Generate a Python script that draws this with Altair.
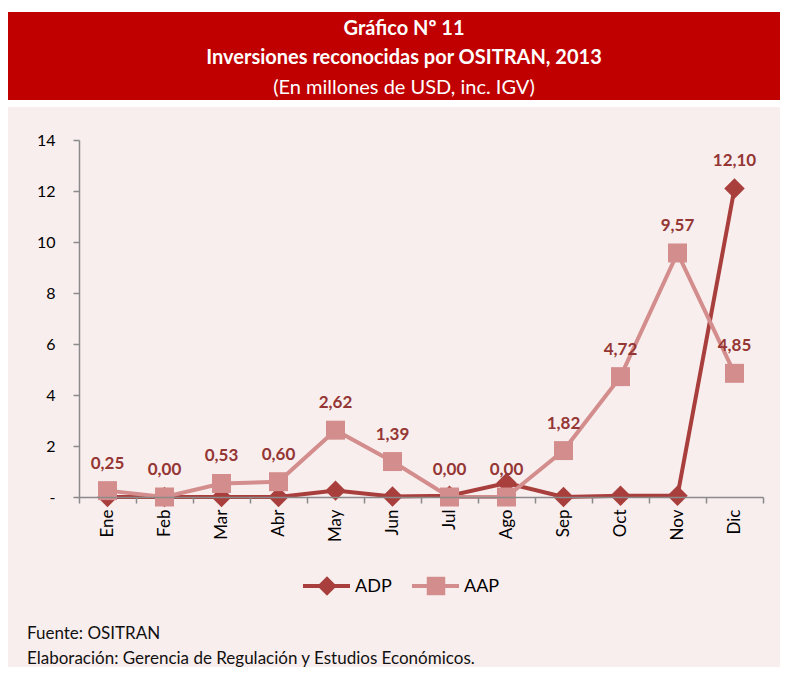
import altair as alt
import pandas as pd

meses = ["Ene", "Feb", "Mar", "Abr", "May", "Jun", "Jul", "Ago", "Sep", "Oct", "Nov", "Dic"]
adp = [0.0, 0.0, 0.0, 0.0, 0.25, 0.02, 0.05, 0.55, 0.0, 0.05, 0.05, 12.10]
aap = [0.25, 0.00, 0.53, 0.60, 2.62, 1.39, 0.00, 0.00, 1.82, 4.72, 9.57, 4.85]
series = ["ADP", "AAP"]
colores = ["#A83F3D", "#D48D8D"]
formas = ["diamond", "square"]
y_ticks = [0, 2, 4, 6, 8, 10, 12, 14]

titulo1 = "Gráfico Nº 11"
titulo2 = "Inversiones reconocidas por OSITRAN, 2013"
titulo3 = "(En millones de USD, inc. IGV)"
fuente = "Fuente: OSITRAN"
elaboracion = "Elaboración: Gerencia de Regulación y Estudios Económicos."

df = pd.DataFrame({
    "mes": meses * 2,
    "serie": ["ADP"] * len(meses) + ["AAP"] * len(meses),
    "valor": adp + aap,
})

FONT = "Lato"
BG = "#F9EEEE"
HEADER = "#C00000"
LABEL_COLOR = "#943634"

x_enc = alt.X(
    "mes:N", sort=meses, bandPosition=0.5,
    scale=alt.Scale(type="band", paddingInner=0, paddingOuter=0),
    axis=alt.Axis(title=None, labelAngle=270, labelFontSize=17, labelColor="black",
                  labelFont=FONT, domainColor="#8A8A8A", domainWidth=1.5,
                  tickColor="#8A8A8A", tickWidth=1.5, tickSize=6, tickBand="extent",
                  labelPadding=6, zindex=1),
)
y_enc = alt.Y(
    "valor:Q", scale=alt.Scale(domain=[0, 14], nice=False),
    axis=alt.Axis(title=None, values=y_ticks, grid=False, labelFontSize=16,
                  labelColor="black", labelFont=FONT, domainColor="#8A8A8A",
                  domainWidth=1.5, tickColor="#8A8A8A", tickWidth=1.5, tickSize=6,
                  labelPadding=18, zindex=1,
                  labelExpr="datum.value == 0 ? '-' : datum.label"),
)
color_enc = alt.Color("serie:N", scale=alt.Scale(domain=series, range=colores), legend=None)


def one():
    return alt.Data(values=[{}])


def rect(x, x2, y, y2, color):
    return alt.Chart(one()).mark_rect(color=color).encode(
        x=alt.value(x), x2=alt.value(x2), y=alt.value(y), y2=alt.value(y2))


def txt(t, x, y, size, color, weight="normal", align="center"):
    return alt.Chart(one()).mark_text(
        text=t, font=FONT, fontSize=size, color=color, fontWeight=weight,
        align=align, baseline="middle").encode(x=alt.value(x), y=alt.value(y))


base = alt.Chart(df)
layers = [
    rect(-80, 712, -33, 540, BG),
    rect(-80, 712, -128, -40, HEADER),
    txt(titulo1, 325, -111, 20, "white", "bold"),
    txt(titulo2, 325, -82, 20, "white", "bold"),
    txt(titulo3, 325, -52, 20, "white"),
]

for s, f, sz in zip(series, formas, [420, 360]):
    sub = base.transform_filter(alt.datum.serie == s)
    layers.append(sub.mark_line(strokeWidth=4).encode(x=x_enc, y=y_enc, color=color_enc))
    layers.append(sub.mark_point(shape=f, filled=True, size=sz, opacity=1).encode(
        x=x_enc, y=y_enc, color=color_enc))

layers.append(
    base.transform_filter("datum.serie == 'AAP' || datum.mes == 'Dic'")
    .transform_calculate(etiqueta="replace(format(datum.valor, '.2f'), '.', ',')")
    .mark_text(font=FONT, fontSize=17, fontWeight="bold", color=LABEL_COLOR, dy=-27)
    .encode(x=x_enc, y=y_enc, text="etiqueta:N")
)

# legend
leg_x = [224, 333]
for s, c, f, lx, sz in zip(series, colores, formas, leg_x, [380, 340]):
    layers.append(alt.Chart(one()).mark_rule(color=c, strokeWidth=4).encode(
        x=alt.value(lx), x2=alt.value(lx + 47), y=alt.value(446)))
    layers.append(alt.Chart(one()).mark_point(shape=f, filled=True, size=sz, color=c, opacity=1).encode(
        x=alt.value(lx + 24), y=alt.value(446)))
    layers.append(txt(s, lx + 52, 447, 18, "black", align="left"))

layers.append(txt(fuente, -52, 494, 17, "#111111", align="left"))
layers.append(txt(elaboracion, -52, 519, 17, "#111111", align="left"))

chart = alt.layer(*layers).properties(
    width=684, height=357,
    autosize=alt.AutoSizeParams(type="none"),
    padding={"left": 71, "top": 132, "right": 17, "bottom": 170},
    background="white",
).configure_view(stroke=None)

chart.save("out.html", embed_options={"renderer": "svg", "actions": False})
